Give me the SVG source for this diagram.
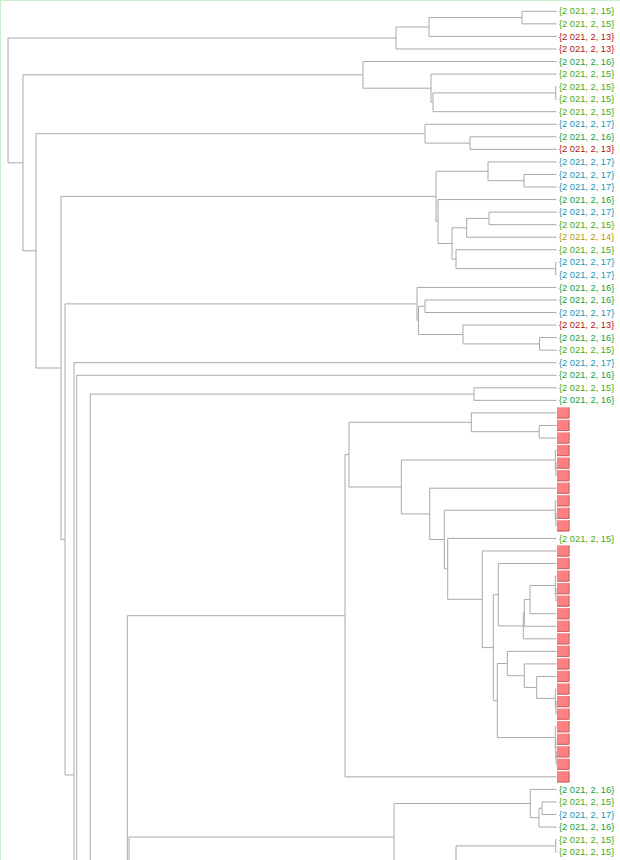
<svg xmlns="http://www.w3.org/2000/svg" xmlns:xlink="http://www.w3.org/1999/xlink" width="620" height="860" viewBox="0 0 620 860">
<style>
.c path{fill:none;stroke:#a9a9a9;stroke-width:1}
text{font-family:"Liberation Sans",Arial,sans-serif;font-size:9.3px}
.d15{fill:#44aa11}.d16{fill:#14a046}.d17{fill:#1496b4}.d13{fill:#b41414}.d14{fill:#b49600}
.bx{fill:#ff8080}.be{fill:none;stroke:#c86464;stroke-width:1}
</style>
<defs>
<g id="box"><rect class="bx" x="557" y="-5.6" width="12.5" height="11.2"/><path class="be" d="M569 -5.6V5.1H557"/></g>
</defs>
<rect width="620" height="860" fill="#ffffff"/>
<path d="M0.5 0V860M0 0.5H620" stroke="#cdeccf" stroke-width="1" fill="none"/>
<g id="connectors" class="c">
<path d="M396 38H8V162.8H23"/>
<path d="M429 27H396V48.95H556.5"/>
<path d="M522 17.6H429V36.4H556.5"/>
<path d="M556.5 11.3H522V23.85H556.5"/>
<path d="M363 74.8H23V250.8H36"/>
<path d="M556.5 61.5H363V88.2H431"/>
<path d="M556.5 74.05H431V102.3H433"/>
<path d="M555.7 92.9H433V111.7H556.5"/>
<path d="M556.5 86.6H555.7V99.15H556.5"/>
<path d="M425 133.7H36V368H61"/>
<path d="M556.5 124.25H425V143.1H470"/>
<path d="M556.5 136.8H470V149.35H556.5"/>
<path d="M436 196.4H61V539.5H65"/>
<path d="M488 171.3H436V221.5H438"/>
<path d="M556.5 161.9H488V180.7H524"/>
<path d="M556.5 174.45H524V187H556.5"/>
<path d="M556.5 199.55H438V243.5H452"/>
<path d="M466.7 227.8H452V259.2H456"/>
<path d="M489 218.4H466.7V237.2H556.5"/>
<path d="M556.5 212.1H489V224.65H556.5"/>
<path d="M556.5 249.75H456V268.6H555.7"/>
<path d="M556.5 262.3H555.7V274.85H556.5"/>
<path d="M417 303.9H65V775H74"/>
<path d="M556.5 287.4H417V320.3H418.5"/>
<path d="M425 306.2H418.5V334.5H463"/>
<path d="M556.5 299.95H425V312.5H556.5"/>
<path d="M556.5 325.05H463V343.9H539.5"/>
<path d="M556.5 337.6H539.5V350.15H556.5"/>
<path d="M556.5 362.7H74V870"/>
<path d="M556.5 375.25H76.7V870"/>
<path d="M474 394.1H90.3V870"/>
<path d="M556.5 387.8H474V400.35H556.5"/>
<path d="M345 615.7H127.3V870"/>
<path d="M349 454.6H345V776.85H556.5"/>
<path d="M471.3 422.3H349V487H401.3"/>
<path d="M556.5 412.9H471.3V431.7H539.3"/>
<path d="M556.5 425.45H539.3V438H556.5"/>
<path d="M555.3 460H401.3V513.9H429.7"/>
<path d="M556.5 450.55H555.3V469.4H556"/>
<path d="M556.5 463.1H556V475.65H556.5"/>
<path d="M556.5 488.2H429.7V539.5H444.3"/>
<path d="M555.3 510.2H444.3V568.8H447.7"/>
<path d="M556.5 500.75H555.3V519.6H556"/>
<path d="M556.5 513.3H556V525.85H556.5"/>
<path d="M556.5 538.4H447.7V599.3H482.3"/>
<path d="M556.5 550.95H482.3V647.6H493.3"/>
<path d="M498.3 594.7H493.3V700.6H497.3"/>
<path d="M556.5 563.5H498.3V625.9H523.3"/>
<path d="M524.3 612.9H523.3V638.8H556.5"/>
<path d="M530 599.6H524.3V626.25H556.5"/>
<path d="M555.3 585.5H530V613.7H556.5"/>
<path d="M556.5 576.05H555.3V594.9H556"/>
<path d="M556.5 588.6H556V601.15H556.5"/>
<path d="M507.3 663.5H497.3V737.6H555.3"/>
<path d="M556.5 651.35H507.3V675.7H524.3"/>
<path d="M556.5 663.9H524.3V687.4H536.7"/>
<path d="M556.5 676.45H536.7V698.4H555.3"/>
<path d="M556.5 689H555.3V707.8H556"/>
<path d="M556.5 701.55H556V714.1H556.5"/>
<path d="M556.5 726.65H555.3V748.6H555.8"/>
<path d="M556.5 739.2H555.8V758.05H556.2"/>
<path d="M556.5 751.8H556.2V764.3H556.5"/>
<path d="M394 837H129V870"/>
<path d="M530.3 803.5H394V870"/>
<path d="M556.5 789.4H530.3V817.6H539"/>
<path d="M542 808.2H539V827.05H556.5"/>
<path d="M556.5 801.95H542V814.5H556.5"/>
<path d="M555.7 845.9H456V870"/>
<path d="M556.5 839.6H555.7V852.15H556.5"/>
</g>
<g id="leaves">
<g id="leaf0"><text class="d15" x="559" y="14.4">{2 021, 2, 15}</text></g>
<g id="leaf1"><text class="d15" x="559" y="26.95">{2 021, 2, 15}</text></g>
<g id="leaf2"><text class="d13" x="559" y="39.5">{2 021, 2, 13}</text></g>
<g id="leaf3"><text class="d13" x="559" y="52.05">{2 021, 2, 13}</text></g>
<g id="leaf4"><text class="d16" x="559" y="64.6">{2 021, 2, 16}</text></g>
<g id="leaf5"><text class="d15" x="559" y="77.15">{2 021, 2, 15}</text></g>
<g id="leaf6"><text class="d15" x="559" y="89.7">{2 021, 2, 15}</text></g>
<g id="leaf7"><text class="d15" x="559" y="102.25">{2 021, 2, 15}</text></g>
<g id="leaf8"><text class="d15" x="559" y="114.8">{2 021, 2, 15}</text></g>
<g id="leaf9"><text class="d17" x="559" y="127.35">{2 021, 2, 17}</text></g>
<g id="leaf10"><text class="d16" x="559" y="139.9">{2 021, 2, 16}</text></g>
<g id="leaf11"><text class="d13" x="559" y="152.45">{2 021, 2, 13}</text></g>
<g id="leaf12"><text class="d17" x="559" y="165">{2 021, 2, 17}</text></g>
<g id="leaf13"><text class="d17" x="559" y="177.55">{2 021, 2, 17}</text></g>
<g id="leaf14"><text class="d17" x="559" y="190.1">{2 021, 2, 17}</text></g>
<g id="leaf15"><text class="d16" x="559" y="202.65">{2 021, 2, 16}</text></g>
<g id="leaf16"><text class="d17" x="559" y="215.2">{2 021, 2, 17}</text></g>
<g id="leaf17"><text class="d15" x="559" y="227.75">{2 021, 2, 15}</text></g>
<g id="leaf18"><text class="d14" x="559" y="240.3">{2 021, 2, 14}</text></g>
<g id="leaf19"><text class="d15" x="559" y="252.85">{2 021, 2, 15}</text></g>
<g id="leaf20"><text class="d17" x="559" y="265.4">{2 021, 2, 17}</text></g>
<g id="leaf21"><text class="d17" x="559" y="277.95">{2 021, 2, 17}</text></g>
<g id="leaf22"><text class="d16" x="559" y="290.5">{2 021, 2, 16}</text></g>
<g id="leaf23"><text class="d16" x="559" y="303.05">{2 021, 2, 16}</text></g>
<g id="leaf24"><text class="d17" x="559" y="315.6">{2 021, 2, 17}</text></g>
<g id="leaf25"><text class="d13" x="559" y="328.15">{2 021, 2, 13}</text></g>
<g id="leaf26"><text class="d16" x="559" y="340.7">{2 021, 2, 16}</text></g>
<g id="leaf27"><text class="d15" x="559" y="353.25">{2 021, 2, 15}</text></g>
<g id="leaf28"><text class="d17" x="559" y="365.8">{2 021, 2, 17}</text></g>
<g id="leaf29"><text class="d16" x="559" y="378.35">{2 021, 2, 16}</text></g>
<g id="leaf30"><text class="d15" x="559" y="390.9">{2 021, 2, 15}</text></g>
<g id="leaf31"><text class="d16" x="559" y="403.45">{2 021, 2, 16}</text></g>
<g id="leaf32"><use xlink:href="#box" y="412.9"/></g>
<g id="leaf33"><use xlink:href="#box" y="425.45"/></g>
<g id="leaf34"><use xlink:href="#box" y="438"/></g>
<g id="leaf35"><use xlink:href="#box" y="450.55"/></g>
<g id="leaf36"><use xlink:href="#box" y="463.1"/></g>
<g id="leaf37"><use xlink:href="#box" y="475.65"/></g>
<g id="leaf38"><use xlink:href="#box" y="488.2"/></g>
<g id="leaf39"><use xlink:href="#box" y="500.75"/></g>
<g id="leaf40"><use xlink:href="#box" y="513.3"/></g>
<g id="leaf41"><use xlink:href="#box" y="525.85"/></g>
<g id="leaf42"><text class="d15" x="559" y="541.5">{2 021, 2, 15}</text></g>
<g id="leaf43"><use xlink:href="#box" y="550.95"/></g>
<g id="leaf44"><use xlink:href="#box" y="563.5"/></g>
<g id="leaf45"><use xlink:href="#box" y="576.05"/></g>
<g id="leaf46"><use xlink:href="#box" y="588.6"/></g>
<g id="leaf47"><use xlink:href="#box" y="601.15"/></g>
<g id="leaf48"><use xlink:href="#box" y="613.7"/></g>
<g id="leaf49"><use xlink:href="#box" y="626.25"/></g>
<g id="leaf50"><use xlink:href="#box" y="638.8"/></g>
<g id="leaf51"><use xlink:href="#box" y="651.35"/></g>
<g id="leaf52"><use xlink:href="#box" y="663.9"/></g>
<g id="leaf53"><use xlink:href="#box" y="676.45"/></g>
<g id="leaf54"><use xlink:href="#box" y="689"/></g>
<g id="leaf55"><use xlink:href="#box" y="701.55"/></g>
<g id="leaf56"><use xlink:href="#box" y="714.1"/></g>
<g id="leaf57"><use xlink:href="#box" y="726.65"/></g>
<g id="leaf58"><use xlink:href="#box" y="739.2"/></g>
<g id="leaf59"><use xlink:href="#box" y="751.8"/></g>
<g id="leaf60"><use xlink:href="#box" y="764.3"/></g>
<g id="leaf61"><use xlink:href="#box" y="776.85"/></g>
<g id="leaf62"><text class="d16" x="559" y="792.5">{2 021, 2, 16}</text></g>
<g id="leaf63"><text class="d15" x="559" y="805.05">{2 021, 2, 15}</text></g>
<g id="leaf64"><text class="d17" x="559" y="817.6">{2 021, 2, 17}</text></g>
<g id="leaf65"><text class="d16" x="559" y="830.15">{2 021, 2, 16}</text></g>
<g id="leaf66"><text class="d15" x="559" y="842.7">{2 021, 2, 15}</text></g>
<g id="leaf67"><text class="d15" x="559" y="855.25">{2 021, 2, 15}</text></g>
</g>
</svg>
